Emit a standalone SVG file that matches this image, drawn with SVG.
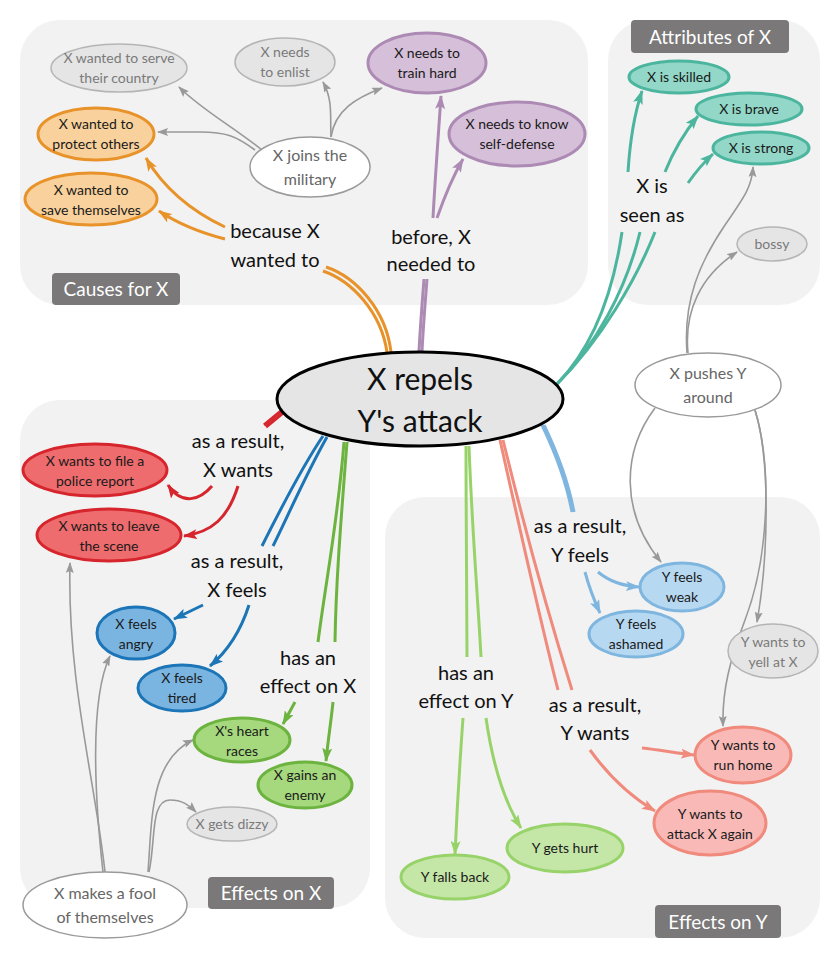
<svg xmlns="http://www.w3.org/2000/svg" width="840" height="955" viewBox="0 0 840 955">
<style>
text{font-family:Lato,"Open Sans","Noto Sans",sans-serif;text-anchor:middle}
.panel{fill:#f2f2f2}
.tag rect{fill:#7a7878}
.tag text{fill:#fff;font-size:19px}
.lbl{font-size:20px;fill:#111}
.nt{font-size:14px;fill:#1a1a1a}
.gt{font-size:14px;fill:#7a7a7a}
.wt{font-size:16px;fill:#666}
.gray{fill:#e5e5e5;stroke:#b5b5b5;stroke-width:1.5}
.white{fill:#fff;stroke:#9a9a9a;stroke-width:1.5}
.or{fill:#f9d19c;stroke:#e8922a;stroke-width:3}
.pu{fill:#d5bfd9;stroke:#ad8ab4;stroke-width:3}
.te{fill:#92d7c8;stroke:#4cb59e;stroke-width:3}
.re{fill:#ee6c6e;stroke:#d6252d;stroke-width:3}
.bl{fill:#7ab5e2;stroke:#1c75b6;stroke-width:3}
.gr{fill:#a6d87e;stroke:#6cb33f;stroke-width:3}
.lb{fill:#b7d8f1;stroke:#7fb6df;stroke-width:3}
.lg{fill:#c4e6a7;stroke:#98d36a;stroke-width:3}
.sa{fill:#f8b9b7;stroke:#f08a7c;stroke-width:3}
#connectors path{fill:none}
.c-or{stroke:#e8922a;stroke-width:3}
.c-pu{stroke:#ad8ab4;stroke-width:3}
.c-te{stroke:#4cb59e;stroke-width:3}
.c-re{stroke:#d6252d;stroke-width:3}
.c-bl{stroke:#1c75b6;stroke-width:3}
.c-gr{stroke:#6cb33f;stroke-width:3}
.c-lb{stroke:#7fb6df;stroke-width:3}
.c-lg{stroke:#98d36a;stroke-width:3}
.c-sa{stroke:#f08a7c;stroke-width:3}
.c-gy{stroke:#999;stroke-width:1.6}
</style>
<defs>
<marker id="a-or" markerUnits="userSpaceOnUse" viewBox="0 0 14 10" markerWidth="14" markerHeight="10" refX="13" refY="5" orient="auto"><path d="M0,0 L14,5 L0,10 L3,5 z" fill="#e8922a"/></marker>
<marker id="a-pu" markerUnits="userSpaceOnUse" viewBox="0 0 14 10" markerWidth="14" markerHeight="10" refX="13" refY="5" orient="auto"><path d="M0,0 L14,5 L0,10 L3,5 z" fill="#ad8ab4"/></marker>
<marker id="a-te" markerUnits="userSpaceOnUse" viewBox="0 0 14 10" markerWidth="14" markerHeight="10" refX="13" refY="5" orient="auto"><path d="M0,0 L14,5 L0,10 L3,5 z" fill="#4cb59e"/></marker>
<marker id="a-re" markerUnits="userSpaceOnUse" viewBox="0 0 14 10" markerWidth="14" markerHeight="10" refX="13" refY="5" orient="auto"><path d="M0,0 L14,5 L0,10 L3,5 z" fill="#d6252d"/></marker>
<marker id="a-bl" markerUnits="userSpaceOnUse" viewBox="0 0 14 10" markerWidth="14" markerHeight="10" refX="13" refY="5" orient="auto"><path d="M0,0 L14,5 L0,10 L3,5 z" fill="#1c75b6"/></marker>
<marker id="a-gr" markerUnits="userSpaceOnUse" viewBox="0 0 14 10" markerWidth="14" markerHeight="10" refX="13" refY="5" orient="auto"><path d="M0,0 L14,5 L0,10 L3,5 z" fill="#6cb33f"/></marker>
<marker id="a-lb" markerUnits="userSpaceOnUse" viewBox="0 0 14 10" markerWidth="14" markerHeight="10" refX="13" refY="5" orient="auto"><path d="M0,0 L14,5 L0,10 L3,5 z" fill="#7fb6df"/></marker>
<marker id="a-lg" markerUnits="userSpaceOnUse" viewBox="0 0 14 10" markerWidth="14" markerHeight="10" refX="13" refY="5" orient="auto"><path d="M0,0 L14,5 L0,10 L3,5 z" fill="#98d36a"/></marker>
<marker id="a-sa" markerUnits="userSpaceOnUse" viewBox="0 0 14 10" markerWidth="14" markerHeight="10" refX="13" refY="5" orient="auto"><path d="M0,0 L14,5 L0,10 L3,5 z" fill="#f08a7c"/></marker>
<marker id="a-gy" markerUnits="userSpaceOnUse" viewBox="0 0 11 8" markerWidth="11" markerHeight="8" refX="10" refY="4" orient="auto"><path d="M0,0 L11,4 L0,8 L2,4 z" fill="#999"/></marker>
</defs>

<g id="panels">
<rect class="panel" x="20" y="20" width="568" height="285" rx="40"/>
<rect class="panel" x="608" y="20" width="212" height="285" rx="40"/>
<rect class="panel" x="20" y="400" width="350" height="508" rx="40"/>
<rect class="panel" x="385" y="497" width="435" height="441" rx="40"/>
</g>
<g id="tags">
<g class="tag" id="tag-causes"><rect x="52" y="273" width="128" height="32" rx="4"/><text x="116" y="296">Causes for X</text></g>
<g class="tag" id="tag-attr"><rect x="631" y="20" width="158" height="33" rx="4"/><text x="710" y="44">Attributes of X</text></g>
<g class="tag" id="tag-effx"><rect x="208" y="877" width="126" height="32" rx="4"/><text x="271" y="900">Effects on X</text></g>
<g class="tag" id="tag-effy"><rect x="655" y="905" width="126" height="33" rx="4"/><text x="718" y="929">Effects on Y</text></g>
</g>

<g id="connectors">
<!-- orange -->
<path class="c-or" d="M323,271 C352,281 381,312 387,352"/>
<path class="c-or" d="M326,267 C356,277 386,310 391,352"/>
<path class="c-or" d="M225,227 Q172,202 146,158" marker-end="url(#a-or)"/>
<path class="c-or" d="M225,239 Q186,229 159,211" marker-end="url(#a-or)"/>
<!-- purple -->
<path class="c-pu" d="M424,279 C422,305 420,330 419,352"/>
<path class="c-pu" d="M427,279 C425,305 423,330 422,352"/>
<path class="c-pu" d="M433,218 C435,180 438,140 441,96" marker-end="url(#a-pu)"/>
<path class="c-pu" d="M437,218 C444,198 452,178 463,159" marker-end="url(#a-pu)"/>
<!-- teal -->
<path class="c-te" d="M557,384 C590,350 612,300 622,232"/>
<path class="c-te" d="M557,384 C596,345 626,290 640,232"/>
<path class="c-te" d="M557,384 C601,340 636,280 655,232"/>
<path class="c-te" d="M628,172 C630,140 634,115 642,91" marker-end="url(#a-te)"/>
<path class="c-te" d="M665,172 C673,152 684,133 698,116" marker-end="url(#a-te)"/>
<path class="c-te" d="M688,183 C695,173 703,163 713,154" marker-end="url(#a-te)"/>
<!-- red -->
<path class="c-re" d="M281,411 L264,425"/>
<path class="c-re" d="M283,413 L266,427"/>
<path class="c-re" d="M212,486 C200,500 182,506 168,485" marker-end="url(#a-re)"/>
<path class="c-re" d="M238,486 C228,518 212,532 184,536" marker-end="url(#a-re)"/>
<!-- dark blue -->
<path class="c-bl" d="M323,436 C300,470 276,518 262,546"/>
<path class="c-bl" d="M327,437 C306,474 287,518 273,546"/>
<path class="c-bl" d="M203,605 L174,619" marker-end="url(#a-bl)"/>
<path class="c-bl" d="M249,605 C241,630 229,650 210,666" marker-end="url(#a-bl)"/>
<!-- green X -->
<path class="c-gr" d="M347,442 C341,520 336,580 335,642"/>
<path class="c-gr" d="M344,442 C338,520 326,580 318,642"/>
<path class="c-gr" d="M295,702 L283,724" marker-end="url(#a-gr)"/>
<path class="c-gr" d="M333,702 C331,722 328,740 326,761" marker-end="url(#a-gr)"/>
<!-- light green Y -->
<path class="c-lg" d="M466,446 C466,520 467,600 467,657"/>
<path class="c-lg" d="M469,446 C472,530 478,600 481,657"/>
<path class="c-lg" d="M463,718 C460,760 457,810 455,854" marker-end="url(#a-lg)"/>
<path class="c-lg" d="M486,718 C492,760 502,798 521,828" marker-end="url(#a-lg)"/>
<!-- salmon -->
<path class="c-sa" d="M500,440 C520,530 540,620 558,690"/>
<path class="c-sa" d="M503,440 C525,530 550,620 572,690"/>
<path class="c-sa" d="M590,750 C608,775 628,795 655,811" marker-end="url(#a-sa)"/>
<path class="c-sa" d="M642,748 C660,750 676,753 694,755" marker-end="url(#a-sa)"/>
<!-- light blue -->
<path class="c-lb" d="M542,425 C554,450 566,480 572,512"/>
<path class="c-lb" d="M544,425 C556,450 568,480 574,512"/>
<path class="c-lb" d="M598,572 C610,582 624,586 639,587" marker-end="url(#a-lb)"/>
<path class="c-lb" d="M585,572 C589,587 594,600 600,613" marker-end="url(#a-lb)"/>
<!-- gray -->
<path class="c-gy" d="M262,150 C232,126 202,110 179,87" marker-end="url(#a-gy)"/>
<path class="c-gy" d="M255,150 C236,136 226,132 200,132 L158,132" marker-end="url(#a-gy)"/>
<path class="c-gy" d="M331,137 C330,115 333,100 323,82" marker-end="url(#a-gy)"/>
<path class="c-gy" d="M331,137 C335,110 356,98 382,88" marker-end="url(#a-gy)"/>
<path class="c-gy" d="M687,353 C683,300 700,262 725,225 C745,196 752,186 753,167" marker-end="url(#a-gy)"/>
<path class="c-gy" d="M688,353 C684,312 700,276 737,252" marker-end="url(#a-gy)"/>
<path class="c-gy" d="M655,408 C622,452 620,512 661,562" marker-end="url(#a-gy)"/>
<path class="c-gy" d="M755,410 C771,460 768,560 757,622" marker-end="url(#a-gy)"/>
<path class="c-gy" d="M755,410 C773,470 768,560 745,620 C730,660 722,690 723,726" marker-end="url(#a-gy)"/>
<path class="c-gy" d="M105,872 C95,780 67,680 70,563" marker-end="url(#a-gy)"/>
<path class="c-gy" d="M103,872 C95,800 89,700 110,656" marker-end="url(#a-gy)"/>
<path class="c-gy" d="M148,872 C152,820 150,760 193,740" marker-end="url(#a-gy)"/>
<path class="c-gy" d="M149,872 C156,840 150,800 170,800 C182,800 189,805 196,812" marker-end="url(#a-gy)"/>
</g>

<g id="labels">
<text class="lbl" x="275" y="238">because X</text><text class="lbl" x="275" y="267">wanted to</text>
<text class="lbl" x="431" y="244">before, X</text><text class="lbl" x="431" y="271">needed to</text>
<text class="lbl" x="652" y="193">X is</text><text class="lbl" x="652" y="222">seen as</text>
<text class="lbl" x="238" y="448">as a result,</text><text class="lbl" x="238" y="477">X wants</text>
<text class="lbl" x="237" y="568">as a result,</text><text class="lbl" x="237" y="597">X feels</text>
<text class="lbl" x="308" y="665">has an</text><text class="lbl" x="308" y="693">effect on X</text>
<text class="lbl" x="580" y="533">as a result,</text><text class="lbl" x="580" y="562">Y feels</text>
<text class="lbl" x="466" y="680">has an</text><text class="lbl" x="466" y="708">effect on Y</text>
<text class="lbl" x="595" y="712">as a result,</text><text class="lbl" x="595" y="740">Y wants</text>
</g>

<g id="n-center"><ellipse cx="420" cy="399" rx="143" ry="47" fill="#e5e5e5" stroke="#000" stroke-width="3"/><text x="420" y="390" style="font-size:30px;fill:#111">X repels</text><text x="420" y="432" style="font-size:30px;fill:#111">Y's attack</text></g>

<g id="n-serve"><ellipse class="gray" cx="119" cy="68" rx="68" ry="24"/><text class="gt" x="119" y="63">X wanted to serve</text><text class="gt" x="119" y="83">their country</text></g>
<g id="n-enlist"><ellipse class="gray" cx="285" cy="62" rx="50" ry="24"/><text class="gt" x="285" y="57">X needs</text><text class="gt" x="285" y="77">to enlist</text></g>
<g id="n-train"><ellipse class="pu" cx="427" cy="63" rx="59" ry="30"/><text class="nt" x="427" y="58">X needs to</text><text class="nt" x="427" y="78">train hard</text></g>
<g id="n-selfdef"><ellipse class="pu" cx="517" cy="134" rx="68" ry="32"/><text class="nt" x="517" y="129">X needs to know</text><text class="nt" x="517" y="149">self-defense</text></g>
<g id="n-military"><ellipse class="white" cx="310" cy="167" rx="60" ry="30"/><text class="wt" x="310" y="161">X joins the</text><text class="wt" x="310" y="185">military</text></g>
<g id="n-protect"><ellipse class="or" cx="96" cy="134" rx="58" ry="26"/><text class="nt" x="96" y="129">X wanted to</text><text class="nt" x="96" y="149">protect others</text></g>
<g id="n-save"><ellipse class="or" cx="91" cy="199" rx="66" ry="26"/><text class="nt" x="91" y="195">X wanted to</text><text class="nt" x="91" y="215">save themselves</text></g>

<g id="n-skilled"><ellipse class="te" cx="679" cy="77" rx="50" ry="16"/><text class="nt" x="679" y="82">X is skilled</text></g>
<g id="n-brave"><ellipse class="te" cx="749" cy="109" rx="53" ry="16"/><text class="nt" x="749" y="114">X is brave</text></g>
<g id="n-strong"><ellipse class="te" cx="761" cy="148" rx="48" ry="16"/><text class="nt" x="761" y="153">X is strong</text></g>
<g id="n-bossy"><ellipse class="gray" cx="772" cy="244" rx="35" ry="17"/><text class="gt" x="772" y="249">bossy</text></g>
<g id="n-pushes"><ellipse class="white" cx="708" cy="385" rx="73" ry="32"/><text class="wt" x="708" y="379">X pushes Y</text><text class="wt" x="708" y="403">around</text></g>

<g id="n-police"><ellipse class="re" cx="95" cy="470" rx="72" ry="26"/><text class="nt" x="95" y="466">X wants to file a</text><text class="nt" x="95" y="486">police report</text></g>
<g id="n-leave"><ellipse class="re" cx="109" cy="535" rx="72" ry="26"/><text class="nt" x="109" y="531">X wants to leave</text><text class="nt" x="109" y="551">the scene</text></g>
<g id="n-angry"><ellipse class="bl" cx="136" cy="633" rx="39" ry="26"/><text class="nt" x="136" y="629">X feels</text><text class="nt" x="136" y="649">angry</text></g>
<g id="n-tired"><ellipse class="bl" cx="182" cy="688" rx="44" ry="23"/><text class="nt" x="182" y="683">X feels</text><text class="nt" x="182" y="703">tired</text></g>
<g id="n-heart"><ellipse class="gr" cx="242" cy="740" rx="48" ry="22"/><text class="nt" x="242" y="736">X's heart</text><text class="nt" x="242" y="756">races</text></g>
<g id="n-enemy"><ellipse class="gr" cx="305" cy="785" rx="47" ry="23"/><text class="nt" x="305" y="780">X gains an</text><text class="nt" x="305" y="800">enemy</text></g>
<g id="n-dizzy"><ellipse class="gray" cx="232" cy="824" rx="45" ry="17"/><text class="gt" x="232" y="829">X gets dizzy</text></g>
<g id="n-fool"><ellipse class="white" cx="105" cy="905" rx="82" ry="33"/><text class="wt" x="105" y="899">X makes a fool</text><text class="wt" x="105" y="923">of themselves</text></g>

<g id="n-weak"><ellipse class="lb" cx="682" cy="587" rx="42" ry="24"/><text class="nt" x="682" y="582">Y feels</text><text class="nt" x="682" y="602">weak</text></g>
<g id="n-ashamed"><ellipse class="lb" cx="636" cy="634" rx="47" ry="23"/><text class="nt" x="636" y="629">Y feels</text><text class="nt" x="636" y="649">ashamed</text></g>
<g id="n-yell"><ellipse class="gray" cx="773" cy="651" rx="45" ry="27"/><text class="gt" x="773" y="647">Y wants to</text><text class="gt" x="773" y="667">yell at X</text></g>
<g id="n-runhome"><ellipse class="sa" cx="743" cy="755" rx="48" ry="28"/><text class="nt" x="743" y="750">Y wants to</text><text class="nt" x="743" y="770">run home</text></g>
<g id="n-attack"><ellipse class="sa" cx="710" cy="823" rx="56" ry="32"/><text class="nt" x="710" y="819">Y wants to</text><text class="nt" x="710" y="839">attack X again</text></g>
<g id="n-hurt"><ellipse class="lg" cx="565" cy="848" rx="58" ry="24"/><text class="nt" x="565" y="853">Y gets hurt</text></g>
<g id="n-fallsback"><ellipse class="lg" cx="455" cy="877" rx="54" ry="22"/><text class="nt" x="455" y="882">Y falls back</text></g>
</svg>
